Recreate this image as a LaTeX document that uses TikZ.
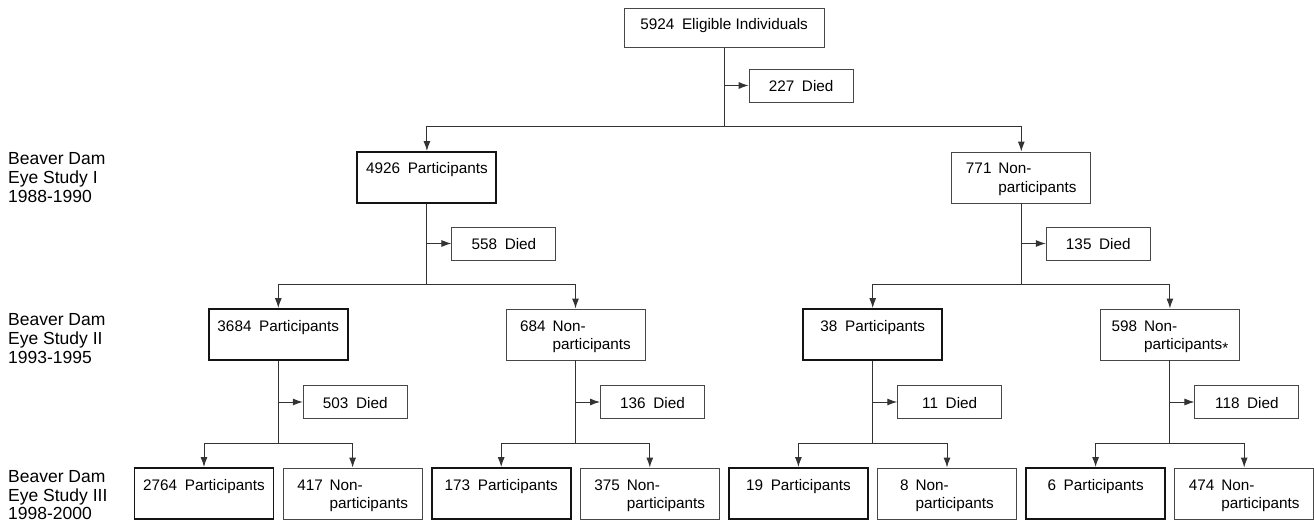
\documentclass[tikz,border=0pt]{standalone}
\usepackage{fontspec}
\setmainfont{Liberation Sans}
\usetikzlibrary{arrows.meta}
\newcommand\nonpart[2]{\begin{tabular}[t]{@{}l@{\hspace{0.45em}}l@{}}#1&Non-\\&#2\end{tabular}}
\begin{document}
\begin{tikzpicture}[x=1pt,y=-1pt,
  every node/.style={font=\fontsize{15.3}{18.5}\selectfont},
  basebox/.style={draw=black!72, line width=0.9pt, inner xsep=0pt, inner ysep=8pt,
    text height=14pt, text depth=21pt, minimum width=139pt},
  part/.style={basebox, draw=black!92, line width=1.9pt},
  nonp/.style={basebox},
  died/.style={draw=black!72, line width=0.9pt, inner xsep=0pt, inner ysep=7pt,
    text height=15.5pt, text depth=3.5pt, minimum width=104pt},
  topbox/.style={draw=black!72, line width=0.9pt, inner xsep=0pt, inner ysep=7pt,
    text height=14pt, text depth=11pt, minimum width=200pt},
  conn/.style={draw=black!80, line width=1pt},
  arr/.style={conn, -{Latex[length=10pt,width=7pt]}},
  lab/.style={anchor=base west, inner sep=0pt, font=\fontsize{17.5}{18.8}\selectfont}
]
\useasboundingbox (0,0) rectangle (1314,521);

% level labels
\node[lab] (lab1) at (8,164.5) {\begin{tabular}[t]{@{}l@{}}Beaver Dam\\Eye Study I\\1988-1990\end{tabular}};
\node[lab] (lab2) at (8,325.5) {\begin{tabular}[t]{@{}l@{}}Beaver Dam\\Eye Study II\\1993-1995\end{tabular}};
\node[lab] (lab3) at (8,482.3) {\begin{tabular}[t]{@{}l@{}}Beaver Dam\\Eye Study III\\1998-2000\end{tabular}};

% junction levels
\coordinate (h0) at (0,127);
\coordinate (h1) at (0,285);
\coordinate (h2) at (0,443);

% top
\node[topbox] (top) at (724.1,28) {5924\hspace{0.5em}Eligible Individuals};
\node[died] (d0) at (801.1,85.5) {227\hspace{0.5em}Died};

% level 1
\node[part] (a) at (426.9,177.5) {4926\hspace{0.5em}Participants};
\node[nonp] (b) at (1021.3,177.5) {\nonpart{771}{participants}};
\node[died] (d1a) at (503.9,243.5) {558\hspace{0.5em}Died};
\node[died] (d1b) at (1098.3,243.5) {135\hspace{0.5em}Died};

% level 2
\node[part] (aa) at (278.3,334.5) {3684\hspace{0.5em}Participants};
\node[nonp] (ab) at (575.5,334.5) {\nonpart{684}{participants}};
\node[part] (ba) at (872.7,334.5) {38\hspace{0.5em}Participants};
\node[nonp] (bb) at (1169.9,334.5) {\nonpart{598}{participants\raisebox{-0.5ex}{*}}};
\node[died] (daa) at (355.3,402) {503\hspace{0.5em}Died};
\node[died] (dab) at (652.5,402) {136\hspace{0.5em}Died};
\node[died] (dba) at (949.7,402) {11\hspace{0.5em}Died};
\node[died] (dbb) at (1246.9,402) {118\hspace{0.5em}Died};

% level 3
\node[part] (aaa) at (204,493.5) {2764\hspace{0.5em}Participants};
\node[nonp] (aab) at (352.6,493.5) {\nonpart{417}{participants}};
\node[part] (aba) at (501.2,493.5) {173\hspace{0.5em}Participants};
\node[nonp] (abb) at (649.8,493.5) {\nonpart{375}{participants}};
\node[part] (baa) at (798.4,493.5) {19\hspace{0.5em}Participants};
\node[nonp] (bab) at (947,493.5) {\nonpart{8}{participants}};
\node[part] (bba) at (1095.6,493.5) {6\hspace{0.5em}Participants};
\node[nonp] (bbb) at (1244.2,493.5) {\nonpart{474}{participants}};

% connectors
\foreach \p/\d/\c/\e/\h in {top/d0/a/b/h0, a/d1a/aa/ab/h1, b/d1b/ba/bb/h1,
    aa/daa/aaa/aab/h2, ab/dab/aba/abb/h2, ba/dba/baa/bab/h2, bb/dbb/bba/bbb/h2}{
  \coordinate (j\p) at (\p.south |- \h);
  \draw[conn] (\p.south) -- (j\p);
  \draw[arr] (\p.south |- \d.west) -- (\d.west);
  \draw[arr] (j\p) -| (\c.north);
  \draw[arr] (j\p) -| (\e.north);
}
\end{tikzpicture}
\end{document}
